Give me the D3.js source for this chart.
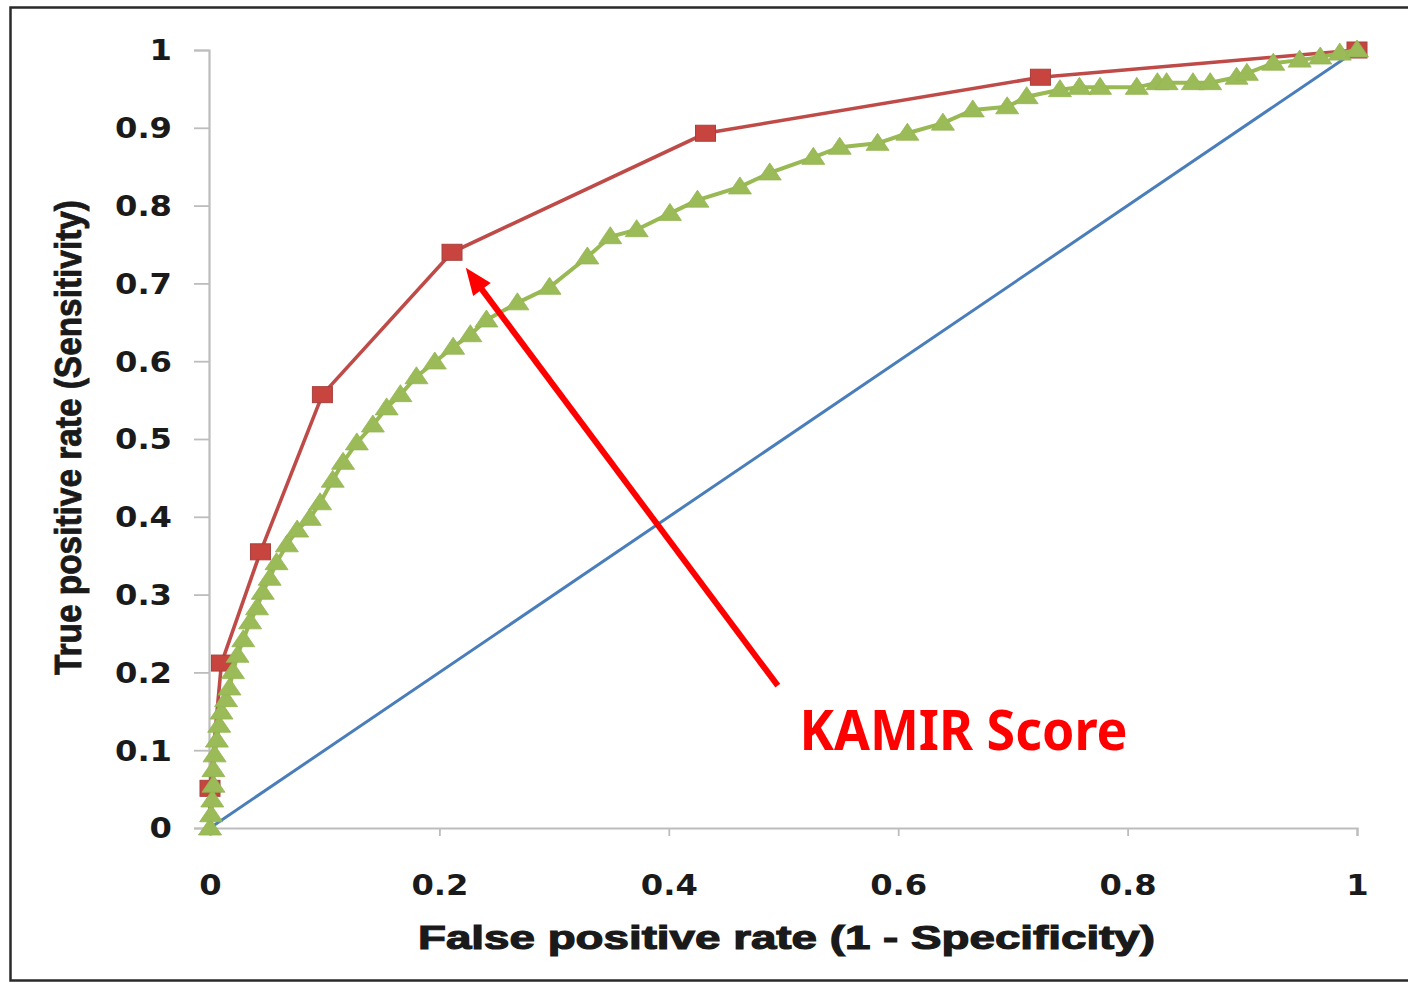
<!DOCTYPE html>
<html>
<head>
<meta charset="utf-8">
<script src="https://cdn.jsdelivr.net/npm/d3@7"></script>
<style>
  html, body { margin: 0; padding: 0; background: #fff; }
  svg { display: block; }
</style>
</head>
<body>
<script>
// ROC curves: reference diagonal, KAMIR score (squares), comparison score (triangles)
const axisTicks = [0, 0.2, 0.4, 0.6, 0.8, 1];
const yTicks = [0, 0.1, 0.2, 0.3, 0.4, 0.5, 0.6, 0.7, 0.8, 0.9, 1];

const diagFpr = [0, 1];
const diagTpr = [0, 1];

const kamirFpr = [0, 0, 0.010, 0.044, 0.098, 0.211, 0.432, 0.724, 1];
const kamirTpr = [0, 0.051, 0.212, 0.355, 0.557, 0.740, 0.893, 0.965, 1];

const otherFpr = [0, 0.001, 0.002, 0.003, 0.003, 0.004, 0.006, 0.008, 0.010, 0.014,
  0.017, 0.020, 0.024, 0.029, 0.035, 0.041, 0.046, 0.052, 0.058, 0.067,
  0.076, 0.087, 0.096, 0.107, 0.116, 0.128, 0.142, 0.154, 0.166, 0.180,
  0.196, 0.212, 0.227, 0.241, 0.268, 0.296, 0.329, 0.349, 0.372, 0.401,
  0.425, 0.462, 0.488, 0.526, 0.549, 0.582, 0.608, 0.639, 0.665, 0.695,
  0.712, 0.741, 0.758, 0.776, 0.808, 0.826, 0.834, 0.857, 0.872, 0.895,
  0.904, 0.927, 0.950, 0.968, 0.985, 1];
const otherTpr = [0, 0.017, 0.036, 0.055, 0.075, 0.094, 0.113, 0.132, 0.149, 0.165,
  0.180, 0.201, 0.222, 0.242, 0.265, 0.283, 0.303, 0.321, 0.341, 0.364,
  0.383, 0.398, 0.418, 0.447, 0.470, 0.495, 0.518, 0.540, 0.557, 0.580,
  0.599, 0.618, 0.634, 0.653, 0.675, 0.695, 0.734, 0.760, 0.769, 0.790,
  0.807, 0.824, 0.842, 0.862, 0.875, 0.880, 0.893, 0.906, 0.923, 0.927,
  0.940, 0.949, 0.952, 0.952, 0.952, 0.958, 0.958, 0.958, 0.958, 0.965,
  0.970, 0.983, 0.987, 0.991, 0.996, 1];

const xTitle = "False positive rate (1 - Specificity)";
const yTitle = "True positive rate (Sensitivity)";
const noteText = "KAMIR Score";
// annotation arrow in data units: tail and tip
const noteTail = [0.495, 0.183];
const noteTip = [0.223, 0.720];
const notePos = [0.514, 0.100];

const W = 1408, H = 983;
const svg = d3.select("body").append("svg").attr("width", W).attr("height", H);

// outer frame
svg.append("rect").attr("x", 10.5).attr("y", 7.5).attr("width", 1420).attr("height", 973)
  .attr("fill", "none").attr("stroke", "#2a2a2a").attr("stroke-width", 2.5);

const x = d3.scaleLinear().domain([0, 1]).range([210, 1357]);
const y = d3.scaleLinear().domain([0, 1]).range([828, 50]);

// axes
const axisColor = "#bdbdbd";
const labelStretch = 1.15;
const gx = svg.append("g").attr("transform", `translate(0,${y(0)})`)
  .call(d3.axisBottom(x).tickValues(axisTicks).tickSize(8).tickFormat(d3.format("")));
gx.select(".domain").attr("stroke", axisColor).attr("stroke-width", 2.2);
gx.selectAll(".tick line").attr("stroke", axisColor).attr("stroke-width", 1.8);
gx.selectAll(".tick text")
  .attr("y", 0).attr("dy", 0)
  .attr("transform", `translate(0,59) scale(${labelStretch},1)`)
  .attr("font-family", "DejaVu Sans").attr("font-weight", "bold").attr("font-size", 28)
  .attr("fill", "#1a1a1a").attr("dominant-baseline", "middle");

const gy = svg.append("g").attr("transform", `translate(${x(0) - 1},0)`)
  .call(d3.axisLeft(y).tickValues(yTicks).tickSize(15).tickFormat(d3.format("")));
gy.select(".domain").attr("stroke", axisColor).attr("stroke-width", 2.2);
gy.selectAll(".tick line").attr("stroke", axisColor).attr("stroke-width", 1.8);
gy.selectAll(".tick text")
  .attr("x", 0).attr("dy", 0).attr("y", 0)
  .attr("transform", `translate(-37,2) scale(${labelStretch},1)`)
  .attr("font-family", "DejaVu Sans").attr("font-weight", "bold").attr("font-size", 28)
  .attr("fill", "#1a1a1a").attr("dominant-baseline", "middle");

// axis titles
svg.append("text")
  .attr("x", 418).attr("y", 949)
  .attr("textLength", 737).attr("lengthAdjust", "spacingAndGlyphs")
  .attr("font-family", "Liberation Sans").attr("font-weight", "bold").attr("font-size", 34)
  .attr("fill", "#1a1a1a").attr("stroke", "#1a1a1a").attr("stroke-width", 1.2)
  .text(xTitle);

svg.append("text")
  .attr("transform", "translate(81,675) rotate(-90)")
  .attr("textLength", 475).attr("lengthAdjust", "spacingAndGlyphs")
  .attr("font-family", "Liberation Sans").attr("font-weight", "bold").attr("font-size", 37)
  .attr("fill", "#1a1a1a").attr("stroke", "#1a1a1a").attr("stroke-width", 0.9)
  .text(yTitle);

const line = d3.line().x(d => x(d[0])).y(d => y(d[1]));

// diagonal reference
svg.append("path").datum(d3.zip(diagFpr, diagTpr)).attr("d", line)
  .attr("fill", "none").attr("stroke", "#4a7ebb").attr("stroke-width", 3);

// KAMIR score curve
const kamir = d3.zip(kamirFpr, kamirTpr);
svg.append("path").datum(kamir).attr("d", line)
  .attr("fill", "none").attr("stroke", "#be4b48").attr("stroke-width", 3.6);
svg.append("g").selectAll("rect").data(kamir.slice(1)).join("rect")
  .attr("x", d => x(d[0]) - 10).attr("y", d => y(d[1]) - 8)
  .attr("width", 20).attr("height", 16)
  .attr("fill", "#c8453f").attr("stroke", "#a8403c").attr("stroke-width", 1);

// comparison score curve
const other = d3.zip(otherFpr, otherTpr);
svg.append("path").datum(other).attr("d", line)
  .attr("fill", "none").attr("stroke", "#98b954").attr("stroke-width", 4);
const tri = "M0,-10L11.5,7L-11.5,7Z";
svg.append("g").selectAll("path").data(other).join("path")
  .attr("transform", d => `translate(${x(d[0])},${y(d[1])})`)
  .attr("d", tri)
  .attr("fill", "#9bbb59").attr("stroke", "#93b550").attr("stroke-width", 0.8);

// annotation arrow
const tx = x(noteTail[0]), ty = y(noteTail[1]);
const hx = x(noteTip[0]), hy = y(noteTip[1]);
const len = Math.hypot(hx - tx, hy - ty);
const ux = (hx - tx) / len, uy = (hy - ty) / len;
const headLen = 27, headHalf = 11;
const bx = hx - ux * headLen, by = hy - uy * headLen;
svg.append("line")
  .attr("x1", tx).attr("y1", ty).attr("x2", bx + ux * 2).attr("y2", by + uy * 2)
  .attr("stroke", "#ff0000").attr("stroke-width", 6);
svg.append("path")
  .attr("d", `M${hx},${hy}L${bx - uy * headHalf},${by + ux * headHalf}L${bx + uy * headHalf},${by - ux * headHalf}Z`)
  .attr("fill", "#ff0000");

svg.append("text")
  .attr("x", x(notePos[0])).attr("y", y(notePos[1]))
  .attr("textLength", 328).attr("lengthAdjust", "spacingAndGlyphs")
  .attr("font-family", "Noto Sans").attr("font-weight", "bold").attr("font-size", 55)
  .attr("fill", "#ff0000")
  .text(noteText);
</script>
</body>
</html>
